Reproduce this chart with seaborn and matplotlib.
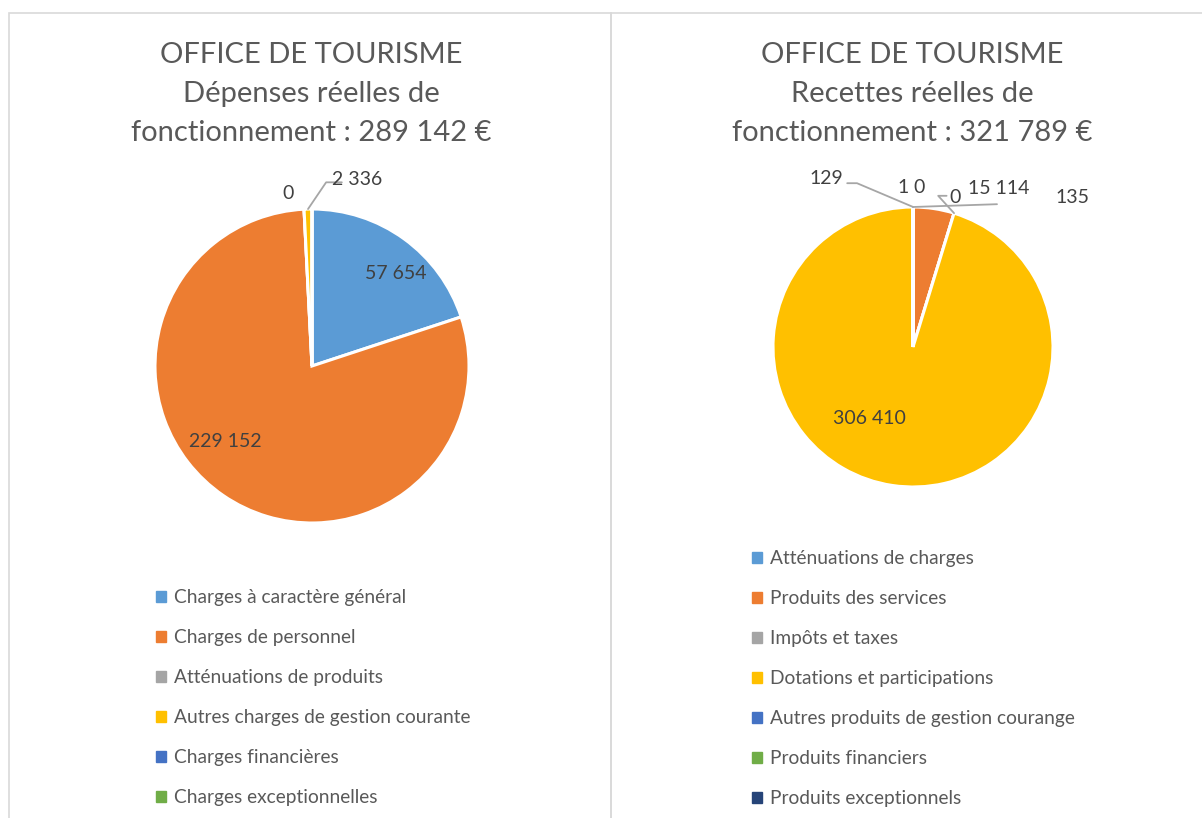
import seaborn as sns
import matplotlib.pyplot as plt
from matplotlib.patches import Rectangle
import numpy as np

sns.set_theme(style='white')
plt.rcParams['font.family'] = ['Lato', 'DejaVu Sans']

# --- data ---
dep_title = 'OFFICE DE TOURISME\nDépenses réelles de\nfonctionnement : 289 142 €'
dep_labels = ['Charges à caractère général', 'Charges de personnel', 'Atténuations de produits',
              'Autres charges de gestion courante', 'Charges financières', 'Charges exceptionnelles']
dep_values = [57654, 229152, 0, 2336, None, None]

rec_title = 'OFFICE DE TOURISME\nRecettes réelles de\nfonctionnement : 321 789 €'
rec_labels = ['Atténuations de charges', 'Produits des services', 'Impôts et taxes',
              'Dotations et participations', 'Autres produits de gestion courange',
              'Produits financiers', 'Produits exceptionnels']
rec_values = [129, 15114, 0, 306410, 135, 1, 0]

palette = sns.color_palette(['#5B9BD5', '#ED7D31', '#A5A5A5', '#FFC000', '#4472C4', '#70AD47', '#264478'])

# --- label layout (pie radius units) ---
dep_pos = [(0.535, 0.586), (-0.554, -0.484), (-0.15, 1.10), (0.29, 1.19), None, None]
dep_lead = [None, None, None, [(0.09, 1.17), (0.19, 1.17)], None, None]
rec_pos = [(-0.62, 1.20), (0.61, 1.13), (0.30, 1.07), (-0.31, -0.51), (1.14, 1.07), (-0.07, 1.14), (0.04, 1.14)]
rec_lead = [[(-0.40, 1.17), (-0.47, 1.17)], None, [(0.18, 1.08), (0.24, 1.08)], None,
            [(0.60, 1.02)], None, None]

TXT = '#595959'
LAB = '#404040'
LINE = '#A6A6A6'


def fmt(v):
    return f'{v:,}'.replace(',', ' ')


def draw(ax, labels, values, pos, lead, legend_anchor):
    vals = [0 if v is None else v for v in values]
    wedges, _ = ax.pie(vals, colors=palette[:len(vals)], startangle=90, counterclock=False,
                       wedgeprops=dict(edgecolor='white', linewidth=2.2), radius=1.0)
    ax.set_xlim(-1, 1)
    ax.set_ylim(-1, 1)
    ax.set_aspect('equal')
    for w, v, p, ld in zip(wedges, values, pos, lead):
        if v is None or p is None:
            continue
        ax.text(p[0], p[1], fmt(v), ha='center', va='center', fontsize=14, color=LAB, clip_on=False)
        if ld is not None:
            mid = np.deg2rad((w.theta1 + w.theta2) / 2)
            pts = [(np.cos(mid), np.sin(mid))] + ld
            xs, ys = zip(*pts)
            ax.plot(xs, ys, color=LINE, lw=1.3, clip_on=False)
    handles = [Rectangle((0, 0), 1, 1, color=palette[i]) for i in range(len(labels))]
    leg = ax.figure.legend(handles, labels, loc='upper left', bbox_to_anchor=legend_anchor,
                           frameon=False, fontsize=13.8, handlelength=0.5, handleheight=0.5,
                           handletextpad=0.45, labelspacing=1.2, borderaxespad=0, borderpad=0)
    for t in leg.get_texts():
        t.set_color(TXT)


W, H = 1202, 818
fig = plt.figure(figsize=(W / 100, H / 100), dpi=100)

# chart frames
fig.patches.append(Rectangle((9 / W, -0.01), 602 / W, (H - 13) / H + 0.01, transform=fig.transFigure,
                             fill=False, edgecolor='#D9D9D9', lw=1.2))
fig.patches.append(Rectangle((611 / W, -0.01), 600 / W, (H - 13) / H + 0.01, transform=fig.transFigure,
                             fill=False, edgecolor='#D9D9D9', lw=1.2))

ax1 = fig.add_axes([155 / W, (H - 523) / H, 314 / W, 314 / H])
ax2 = fig.add_axes([773 / W, (H - 487) / H, 280 / W, 280 / H])

draw(ax1, dep_labels, dep_values, dep_pos, dep_lead, (156 / W, 1 - 589 / H))
draw(ax2, rec_labels, rec_values, rec_pos, rec_lead, (752 / W, 1 - 550 / H))

fig.text(311 / W, 1 - 94 / H, dep_title, ha='center', va='center', fontsize=21, color=TXT, linespacing=1.62)
fig.text(912 / W, 1 - 94 / H, rec_title, ha='center', va='center', fontsize=21, color=TXT, linespacing=1.62)

fig.savefig('out.png', dpi=100)
